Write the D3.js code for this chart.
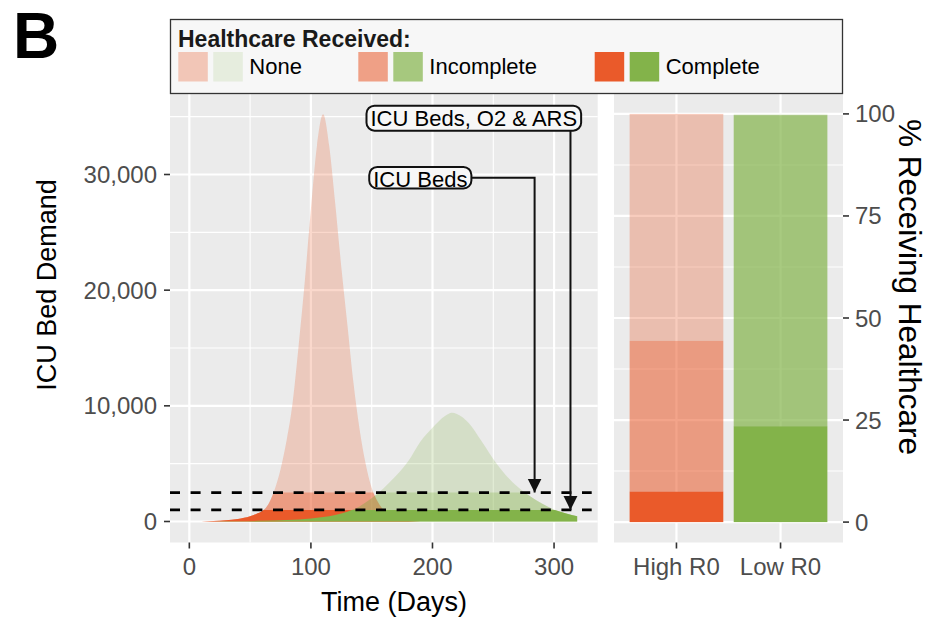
<!DOCTYPE html>
<html>
<head>
<meta charset="utf-8">
<script src="https://cdn.jsdelivr.net/npm/d3@7"></script>
<style>
  body { margin: 0; background: #fff; }
  text { font-family: "Liberation Sans", Arial, sans-serif; }
</style>
</head>
<body>
<svg id="chart" width="933" height="622"></svg>
<script>
// ICU bed demand over time
const highDays   = [0, 10, 20, 30, 40, 50, 55, 60, 65, 70, 75, 80, 85, 90, 95, 100, 105, 110, 115, 120, 125, 130, 135, 140, 145, 150, 155, 160, 165, 170, 175, 180, 190];
const highDemand = [0, 10, 40, 100, 220, 450, 650, 900, 1500, 2700, 4500, 7000, 10300, 15300, 20800, 27000, 32500, 35200, 32500, 27500, 22000, 17000, 12000, 8000, 5000, 2900, 1700, 950, 500, 250, 100, 40, 0];
const lowDays    = [0, 20, 40, 60, 80, 100, 110, 120, 130, 140, 150, 160, 170, 180, 190, 200, 210, 216, 220, 230, 240, 250, 260, 270, 280, 290, 300, 310, 319];
const lowDemand  = [0, 5, 20, 60, 130, 260, 380, 560, 850, 1300, 2000, 2900, 3950, 5200, 6900, 8100, 9100, 9400, 9300, 8500, 7000, 5400, 4050, 3000, 2200, 1550, 1020, 700, 460];

// capacity levels (ICU beds only / ICU beds, O2 & ARS)
const capacityLevels = [2500, 1000];

// share of patients by healthcare received (right panel)
const scenarios     = ['High R0', 'Low R0'];
const pctComplete   = [7.5, 23.5];
const pctIncomplete = [36.9, 76.2];
const pctNone       = [55.6, 0.3];

const careLevels = ['None', 'Incomplete', 'Complete'];

const xTicks   = [0, 100, 200, 300];
const yTicks   = [0, 10000, 20000, 30000];
const pctTicks = [0, 25, 50, 75, 100];

// annotation labels, in data units
const noteText       = ['ICU Beds', 'ICU Beds, O2 & ARS'];
const noteLabelDay   = [190, 234];
const noteLabelValue = [29570, 34870];
const noteArrowDay   = [284, 313.5];
const noteArrowValue = [2500, 1000];

const svg = d3.select('#chart');

const leftPanel  = { x0: 170, x1: 597.7, y0: 93.5, y1: 542.5 };
const rightPanel = { x0: 614, x1: 843, y0: 93.5, y1: 542.5 };

const panelBg = '#ebebeb';
const tickCol = '#4d4d4d';
const redBase = '#ea5a2a';
const greenBase = '#83b34a';
const baseColor = { 'High R0': redBase, 'Low R0': greenBase };
// opacity of each care level per scenario
const barAlpha  = { 'High R0': { None: 0.31, Incomplete: 0.55, Complete: 1 },
                    'Low R0':  { None: 0.14, Incomplete: 0.7,  Complete: 1 } };
const areaAlpha = { 'High R0': { None: 0.24, Incomplete: 0.4, Complete: 1 },
                    'Low R0':  { None: 0.22, Incomplete: 0.3, Complete: 1 } };

const x = d3.scaleLinear().domain([-15.9, 335.9]).range([leftPanel.x0, leftPanel.x1]);
const y = d3.scaleLinear().domain([-1816, 37003]).range([leftPanel.y1, leftPanel.y0]);
const yPct = d3.scaleLinear().domain([-5, 105]).range([rightPanel.y1, rightPanel.y0]);
const xCat = d3.scalePoint().domain(scenarios).range([rightPanel.x0, rightPanel.x1]).padding(0.6);
const barWidth = xCat.step() * 0.9;

function minorBreaks(majors, domain) {
    const step = majors[1] - majors[0];
    const ext = [majors[0] - step, ...majors, majors[majors.length - 1] + step];
    const out = [];
    for (let i = 0; i < ext.length - 1; i++) {
        const m = (ext[i] + ext[i + 1]) / 2;
        if (m >= domain[0] && m <= domain[1]) out.push(m);
    }
    return out;
}

const defs = svg.append('defs');
defs.append('clipPath').attr('id', 'clip-left').append('rect')
    .attr('x', leftPanel.x0).attr('y', leftPanel.y0)
    .attr('width', leftPanel.x1 - leftPanel.x0).attr('height', leftPanel.y1 - leftPanel.y0);
capacityLevels.forEach((cap, i) => {
    defs.append('clipPath').attr('id', 'clip-cap' + i).append('rect')
        .attr('x', leftPanel.x0).attr('y', y(cap))
        .attr('width', leftPanel.x1 - leftPanel.x0).attr('height', leftPanel.y1 - y(cap));
});

// ---------- left panel ----------
const gL = svg.append('g');
gL.append('rect')
    .attr('x', leftPanel.x0).attr('y', leftPanel.y0)
    .attr('width', leftPanel.x1 - leftPanel.x0).attr('height', leftPanel.y1 - leftPanel.y0)
    .attr('fill', panelBg);

const gridL = gL.append('g').attr('stroke', '#fff');
minorBreaks(xTicks, x.domain()).forEach(d => gridL.append('line')
    .attr('x1', x(d)).attr('x2', x(d)).attr('y1', leftPanel.y0).attr('y2', leftPanel.y1).attr('stroke-width', 1.1));
minorBreaks(yTicks, y.domain()).forEach(d => gridL.append('line')
    .attr('y1', y(d)).attr('y2', y(d)).attr('x1', leftPanel.x0).attr('x2', leftPanel.x1).attr('stroke-width', 1.1));
xTicks.forEach(d => gridL.append('line')
    .attr('x1', x(d)).attr('x2', x(d)).attr('y1', leftPanel.y0).attr('y2', leftPanel.y1).attr('stroke-width', 2.2));
yTicks.forEach(d => gridL.append('line')
    .attr('y1', y(d)).attr('y2', y(d)).attr('x1', leftPanel.x0).attr('x2', leftPanel.x1).attr('stroke-width', 2.2));

const series = [
    { name: 'High R0', pts: highDays.map((d, i) => [d, highDemand[i]]) },
    { name: 'Low R0',  pts: lowDays.map((d, i) => [d, lowDemand[i]]) }
];

const area = d3.area()
    .x(d => x(d[0]))
    .y0(y(0))
    .y1(d => y(d[1]))
    .curve(d3.curveMonotoneX);

const gAreas = gL.append('g').attr('clip-path', 'url(#clip-left)');
// None: full curve, Incomplete: below ICU bed line, Complete: below ICU+O2+ARS line
careLevels.forEach((level, li) => {
    const layer = li === 0 ? gAreas
        : gAreas.append('g').attr('clip-path', `url(#clip-cap${li - 1})`);
    series.forEach(s => {
        layer.append('path')
            .datum(s.pts)
            .attr('d', area)
            .attr('fill', baseColor[s.name])
            .attr('fill-opacity', areaAlpha[s.name][level]);
    });
});

// capacity lines
capacityLevels.forEach(cap => {
    gL.append('line')
        .attr('x1', leftPanel.x0).attr('x2', leftPanel.x1 - 6)
        .attr('y1', y(cap)).attr('y2', y(cap))
        .attr('stroke', '#000').attr('stroke-width', 2.7)
        .attr('stroke-dasharray', '10,10.6');
});

// annotations
const gNote = svg.append('g');
defs.append('marker').attr('id', 'arrow')
    .attr('viewBox', '0 0 10 10').attr('refX', 10).attr('refY', 5)
    .attr('markerUnits', 'userSpaceOnUse')
    .attr('markerWidth', 14).attr('markerHeight', 17)
    .attr('orient', 'auto')
    .append('path').attr('d', 'M0,0 L10,5 L0,10 Z').attr('fill', '#111');

noteText.forEach((txt, i) => {
    const cx = x(noteLabelDay[i]), cy = y(noteLabelValue[i]);
    const g = gNote.append('g');
    const box = g.append('rect');
    const t = g.append('text')
        .attr('x', cx).attr('y', cy + 8)
        .attr('text-anchor', 'middle')
        .attr('font-size', 22).attr('fill', '#000')
        .text(txt);
    const tw = t.node().getComputedTextLength();
    const hasDesc = /[,gjpqy]/.test(txt);
    const bh = hasDesc ? 25 : 21.5;
    const bx0 = cx - tw / 2 - 4, bx1 = cx + tw / 2 + 4;
    const by0 = cy - 12.5, by1 = by0 + bh;
    box.attr('x', bx0).attr('y', by0).attr('width', bx1 - bx0).attr('height', bh)
        .attr('rx', 8).attr('fill', '#f7f7f7').attr('stroke', '#111').attr('stroke-width', 2);

    const ax = x(noteArrowDay[i]), ay = y(noteArrowValue[i]);
    let pathD;
    if (ax <= bx1 - 4) {
        pathD = `M${ax},${by1} L${ax},${ay}`;
    } else {
        const my = (by0 + by1) / 2;
        pathD = `M${bx1},${my} L${ax},${my} L${ax},${ay}`;
    }
    gNote.insert('path', ':first-child')
        .attr('d', pathD)
        .attr('fill', 'none').attr('stroke', '#111').attr('stroke-width', 2)
        .attr('marker-end', 'url(#arrow)');
});

// left axis
const yAxisG = svg.append('g');
yTicks.forEach(d => {
    yAxisG.append('line').attr('x1', leftPanel.x0 - 6).attr('x2', leftPanel.x0)
        .attr('y1', y(d)).attr('y2', y(d)).attr('stroke', '#333').attr('stroke-width', 1.6);
    yAxisG.append('text').attr('x', leftPanel.x0 - 13).attr('y', y(d) + 8.5)
        .attr('text-anchor', 'end').attr('font-size', 24).attr('fill', tickCol)
        .text(d3.format(',')(d));
});
const xAxisG = svg.append('g');
xTicks.forEach(d => {
    xAxisG.append('line').attr('x1', x(d)).attr('x2', x(d))
        .attr('y1', leftPanel.y1).attr('y2', leftPanel.y1 + 6).attr('stroke', '#333').attr('stroke-width', 1.6);
    xAxisG.append('text').attr('x', x(d)).attr('y', 575)
        .attr('text-anchor', 'middle').attr('font-size', 24).attr('fill', tickCol)
        .text(d);
});

svg.append('text').attr('x', 394).attr('y', 611)
    .attr('text-anchor', 'middle').attr('font-size', 27).attr('fill', '#000')
    .text('Time (Days)');
svg.append('text')
    .attr('transform', 'translate(56,285) rotate(-90)')
    .attr('text-anchor', 'middle').attr('font-size', 27).attr('fill', '#000')
    .text('ICU Bed Demand');

// ---------- right panel ----------
const gR = svg.append('g');
gR.append('rect')
    .attr('x', rightPanel.x0).attr('y', rightPanel.y0)
    .attr('width', rightPanel.x1 - rightPanel.x0).attr('height', rightPanel.y1 - rightPanel.y0)
    .attr('fill', panelBg);
const gridR = gR.append('g').attr('stroke', '#fff');
minorBreaks(pctTicks, yPct.domain()).forEach(d => gridR.append('line')
    .attr('y1', yPct(d)).attr('y2', yPct(d)).attr('x1', rightPanel.x0).attr('x2', rightPanel.x1).attr('stroke-width', 1.1));
pctTicks.forEach(d => gridR.append('line')
    .attr('y1', yPct(d)).attr('y2', yPct(d)).attr('x1', rightPanel.x0).attr('x2', rightPanel.x1).attr('stroke-width', 2.2));
scenarios.forEach(s => gridR.append('line')
    .attr('x1', xCat(s)).attr('x2', xCat(s)).attr('y1', rightPanel.y0).attr('y2', rightPanel.y1).attr('stroke-width', 2.2));

const barRows = scenarios.map((s, i) => ({
    scenario: s, Complete: pctComplete[i], Incomplete: pctIncomplete[i], None: pctNone[i]
}));
const stacked = d3.stack().keys(['Complete', 'Incomplete', 'None'])(barRows);
stacked.forEach(layer => {
    gR.selectAll(null).data(layer).enter().append('rect')
        .attr('x', d => xCat(d.data.scenario) - barWidth / 2)
        .attr('width', barWidth)
        .attr('y', d => yPct(d[1]))
        .attr('height', d => yPct(d[0]) - yPct(d[1]))
        .attr('fill', d => baseColor[d.data.scenario])
        .attr('fill-opacity', d => barAlpha[d.data.scenario][layer.key]);
});

const rAxisG = svg.append('g');
pctTicks.forEach(d => {
    rAxisG.append('line').attr('x1', rightPanel.x1).attr('x2', rightPanel.x1 + 6)
        .attr('y1', yPct(d)).attr('y2', yPct(d)).attr('stroke', '#333').attr('stroke-width', 1.6);
    rAxisG.append('text').attr('x', rightPanel.x1 + 12).attr('y', yPct(d) + 8.5)
        .attr('text-anchor', 'start').attr('font-size', 24).attr('fill', tickCol)
        .text(d);
});
scenarios.forEach(s => {
    rAxisG.append('line').attr('x1', xCat(s)).attr('x2', xCat(s))
        .attr('y1', rightPanel.y1).attr('y2', rightPanel.y1 + 6).attr('stroke', '#333').attr('stroke-width', 1.6);
    rAxisG.append('text').attr('x', xCat(s)).attr('y', 575)
        .attr('text-anchor', 'middle').attr('font-size', 24).attr('fill', tickCol)
        .text(s);
});
svg.append('text')
    .attr('transform', 'translate(899,287) rotate(90)')
    .attr('text-anchor', 'middle').attr('font-size', 31.5).attr('fill', '#000')
    .text('% Receiving Healthcare');

// ---------- legend ----------
const legend = svg.append('g');
legend.append('rect')
    .attr('x', 170.5).attr('y', 19.5).attr('width', 672).attr('height', 74)
    .attr('fill', '#f7f7f7').attr('stroke', '#333').attr('stroke-width', 1.3);
legend.append('text').attr('x', 178).attr('y', 46.5)
    .attr('font-size', 23).attr('font-weight', 'bold').attr('fill', '#1a1a1a')
    .text('Healthcare Received:');
const legendX = [178.3, 358.3, 594.7];
const keyOrder = ['None', 'Incomplete', 'Complete'];
const keySize = 29.5;
keyOrder.forEach((level, i) => {
    scenarios.forEach((s, j) => {
        legend.append('rect')
            .attr('x', legendX[i] + j * (keySize + 5.5)).attr('y', 52)
            .attr('width', keySize).attr('height', keySize)
            .attr('fill', baseColor[s]).attr('fill-opacity', barAlpha[s][level]);
    });
    legend.append('text')
        .attr('x', legendX[i] + 2 * keySize + 12).attr('y', 73.5)
        .attr('font-size', 22).attr('fill', '#000')
        .text(level);
});

// panel tag
svg.append('text').attr('x', 13).attr('y', 58)
    .attr('font-size', 64).attr('font-weight', 'bold').attr('fill', '#000')
    .text('B');
</script>
</body>
</html>
